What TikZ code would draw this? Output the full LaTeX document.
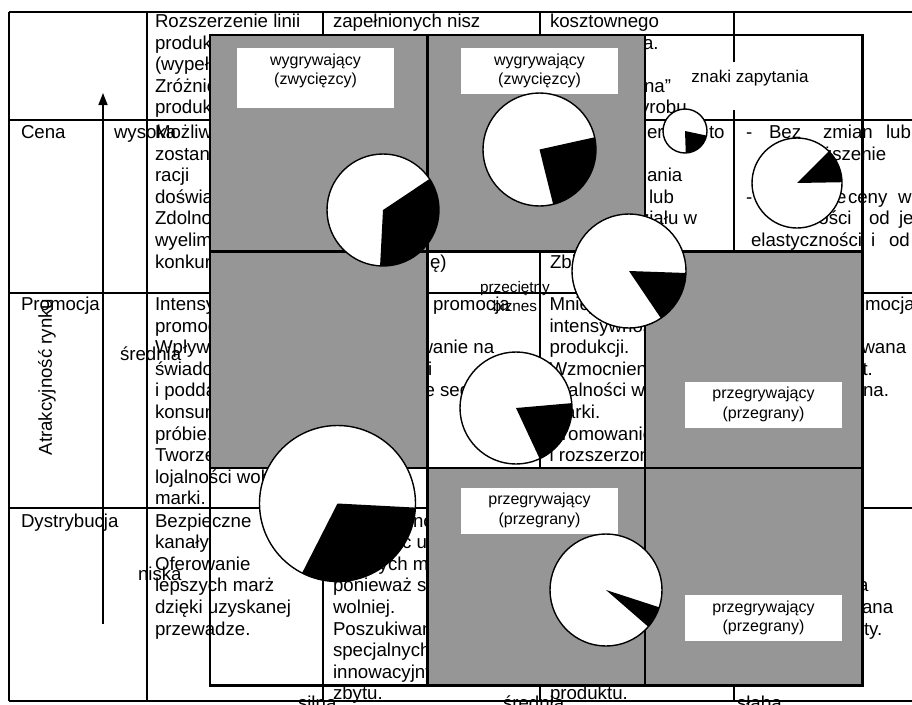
\documentclass[tikz,border=0pt]{standalone}
\usepackage{fontspec}
\setmainfont{Liberation Sans}
\usetikzlibrary{arrows.meta}
\definecolor{cellgray}{RGB}{150,150,150}

% several lines of one table cell, one below the other
\newcommand{\tlines}[4]{%
  \foreach \lineitem [count=\k from 0] in {#4} {%
    \node[tbl] (#1\k) at (#2,{#3+21.6*\k}) {\lineitem};}}

% a pie: white disc, black sector, black rim
\newcommand{\pie}[6]{%
  \coordinate (#1) at (#2,#3);
  \fill[white] (#1) circle[radius=#4];
  \fill[black] (#1) -- ++(#5:#4) arc[start angle=#5, end angle=#6, radius=#4] -- cycle;
  \draw[pieedge] (#1) circle[radius=#4];}

\begin{document}
\begin{tikzpicture}[x=1pt,y=-1pt,
  tbl/.style={anchor=base west, inner sep=0pt, outer sep=0pt,
    font=\fontsize{18.67}{21.6}\selectfont},
  axlbl/.style={tbl},
  tline/.style={line width=1.7pt},
  mline/.style={line width=2.2pt, line cap=rect},
  lbl/.style={inner sep=0pt, align=center, font=\fontsize{16}{19.5}\selectfont},
  lblbox/.style={lbl, fill=white, minimum width=157pt, minimum height=46pt},
  pieedge/.style={line width=1.4pt}]
\useasboundingbox (0,0) rectangle (912,704);
\clip (0,0) rectangle (912,704);
\fill[white] (0,0) rectangle (912,704);

% ---------------- table text ----------------
% first row
\tlines{hb}{155}{27.5}{Rozszerzenie linii, produktów, {(wypełnianie}, Zróżnicowanie, produktów}
\node[tbl] (hc) at (333,27.5) {zapełnionych nisz};
\node[tbl] (hd1) at (550,27.5) {kosztownego};
\node[tbl] (hd2) at (643,49.1) {a.};
\node[tbl] (hd4) at (644,92.3) {na”};
\node[tbl] (hd5) at (640,113.9) {yrobu};

% row "Cena"
\node[tbl] (cA) at (21,138.5) {Cena};
\tlines{cb}{155}{138.5}{Możliwość, zostania, racji, doświadczenia, Zdolność, wyeliminowania, konkurencji}
\node[tbl] (cc7) at (430,268.1) {ę)};
\node[tbl] (cd1a) at (647,138.5) {er};
\node[tbl] (cd1b) at (709,138.5) {to};
\node[tbl] (cd3) at (647,181.7) {ania};
\node[tbl] (cd4) at (649,203.3) {lub};
\node[tbl] (cd5) at (640,224.9) {ziału w};
\node[tbl] (cd7) at (550,268.1) {Zbieranie};
\node[tbl] (ce1a) at (746,138.5) {-};
\node[tbl] (ce1b) at (769,138.5) {Bez};
\node[tbl] (ce1c) at (823,138.5) {zmian};
\node[tbl] (ce1d) at (886,138.5) {lub};
\node[tbl] (ce2) at (769,160.1) {podwyższenie};
\node[tbl] (ce4a) at (746,203.3) {-};
\node[tbl] (ce4b) at (836,203.3) {e};
\node[tbl] (ce4c) at (848,203.3) {ceny};
\node[tbl] (ce4d) at (898,203.3) {w};
\node[tbl] (ce5a) at (808,224.9) {ności};
\node[tbl] (ce5b) at (869,224.9) {od};
\node[tbl] (ce5c) at (899,224.9) {je};
\node[tbl] (ce6a) at (751,246.5) {elastyczności};
\node[tbl] (ce6b) at (871,246.5) {i};
\node[tbl] (ce6c) at (889,246.5) {od};

% row "Promocja"
\node[tbl] (pA) at (21,310.5) {Promocja};
\tlines{pb}{155}{310.5}{Intensywna, promocja, Wpływanie, świadomość, i poddanie, konsumentów, próbie., Tworzenie, lojalności wobec, marki.}
\node[tbl] (pc1) at (433,310.5) {promocja};
\node[tbl] (pc3) at (419.5,353.7) {wanie na};
\node[tbl] (pc4) at (418.7,375.3) {ci};
\node[tbl] (pc5) at (424.6,396.9) {e segmentu};
\tlines{pd}{549.5}{310.5}{Mniejsza, intensywność, produkcji., Wzmocnienie, lojalności w, marki., Promowanie, i rozszerzonej}
\node[tbl] (pe1) at (836,310.5) {Promocja};
\node[tbl] (pe3) at (861.5,353.7) {wana};
\node[tbl] (pe4) at (862.5,375.3) {t.};
\node[tbl] (pe5) at (863,396.9) {na.};

% row "Dystrybucja"
\node[tbl] (dA) at (21,527) {Dystrybucja};
\tlines{db}{155}{527}{Bezpieczne, kanały., Oferowanie, lepszych marż, dzięki uzyskanej, przewadze.}
\node[tbl] (dc1) at (413,527) {no};
\node[tbl] (dc2) at (402,548.6) {c u};
\node[tbl] (dc3) at (378.7,570.2) {ych m};
\tlines{dc}{333}{591.8}{ponieważ sprzedaż, wolniej., Poszukiwanie, specjalnych, innowacyjnych, zbytu.}
\node[tbl] (dd9) at (550,699.8) {produktu.};
\node[tbl] (de4) at (858,591.8) {a};
\node[tbl] (de5) at (862,613.4) {ana};
\node[tbl] (de6) at (864,635) {ty.};

% ---------------- table grid ----------------
\foreach \yy in {12,120,293,508,701} \draw[tline] (9,\yy) -- (912,\yy);
\foreach \xx in {9,147,323,540,734} \draw[tline] (\xx,12) -- (\xx,701);

% ---------------- axis and its labels ----------------
\coordinate (axB) at (103,624);
\coordinate (axT) at (103,93);
\draw[line width=1.6pt, -{Triangle[length=12pt,width=9pt]}] (axB) -- (axT);
\node[rotate=90, inner sep=0pt, font=\fontsize{18.67}{21.6}\selectfont] (attr) at (47,377) {Atrakcyjność rynku};
\node[axlbl] (hi) at (114,138.5) {wysoka};
\node[axlbl] (mid) at (120,360) {średnia};
\node[axlbl] (lo) at (138,580) {niska};
\node[axlbl] (strong) at (298,709) {silna};
\node[axlbl] (medium) at (503,709) {średnia};
\node[axlbl] (weak) at (737,709) {słaba};

% ---------------- 3x3 matrix ----------------
\fill[cellgray] (210,35) rectangle (427.5,251.5);
\fill[cellgray] (427.5,35) rectangle (645,251.5);
\fill[cellgray] (210,251.5) rectangle (427.5,468);
\fill[cellgray] (645,251.5) rectangle (862.5,468);
\fill[cellgray] (427.5,468) rectangle (645,685.5);
\fill[cellgray] (645,468) rectangle (862.5,685.5);
\draw[mline] (210,35) rectangle (862.5,685.5);
\draw[mline] (427.5,35) -- (427.5,685.5);
\draw[mline] (645,35) -- (645,685.5);
\draw[mline] (210,251.5) -- (862.5,251.5);
\draw[mline] (210,468) -- (862.5,468);

% cell labels
\fill[white] (237,48) rectangle (394,108);
\node[lbl] (win1) at (315.5,71) {wygrywający\\(zwycięzcy)};
\node[lblbox] (win2) at (539.5,71) {wygrywający\\(zwycięzcy)};
\node[lblbox] (lose1) at (763.5,404.5) {przegrywający\\(przegrany)};
\node[lblbox] (lose2) at (539.5,510.5) {przegrywający\\(przegrany)};
\node[lblbox] (lose3) at (763.5,618) {przegrywający\\(przegrany)};
\node[fill=white, inner sep=0pt, minimum width=100pt, minimum height=48pt, align=center,
      font=\fontsize{17}{19.5}\selectfont] (quest) at (750,86) {znaki zapytania\\~};
\node[inner sep=0pt, align=center, font=\fontsize{15.3}{19}\selectfont] (avg) at (515,296.5) {przeciętny\\biznes};

% ---------------- pies ----------------
\pie{pA}{383}{210}{56}{93}{-33.7}
\pie{pB}{539.5}{149.5}{56.5}{76}{-12.5}
\pie{pC}{685}{131}{22}{88}{12}
\pie{pD}{797}{183}{45}{-1}{-45}
\pie{pE}{629}{271}{57}{56}{2}
\pie{pF}{516}{408}{56}{65}{-5}
\pie{pG}{337.5}{503.5}{78}{117}{3}
\pie{pH}{606}{590}{56}{41}{18}
\end{tikzpicture}
\end{document}
